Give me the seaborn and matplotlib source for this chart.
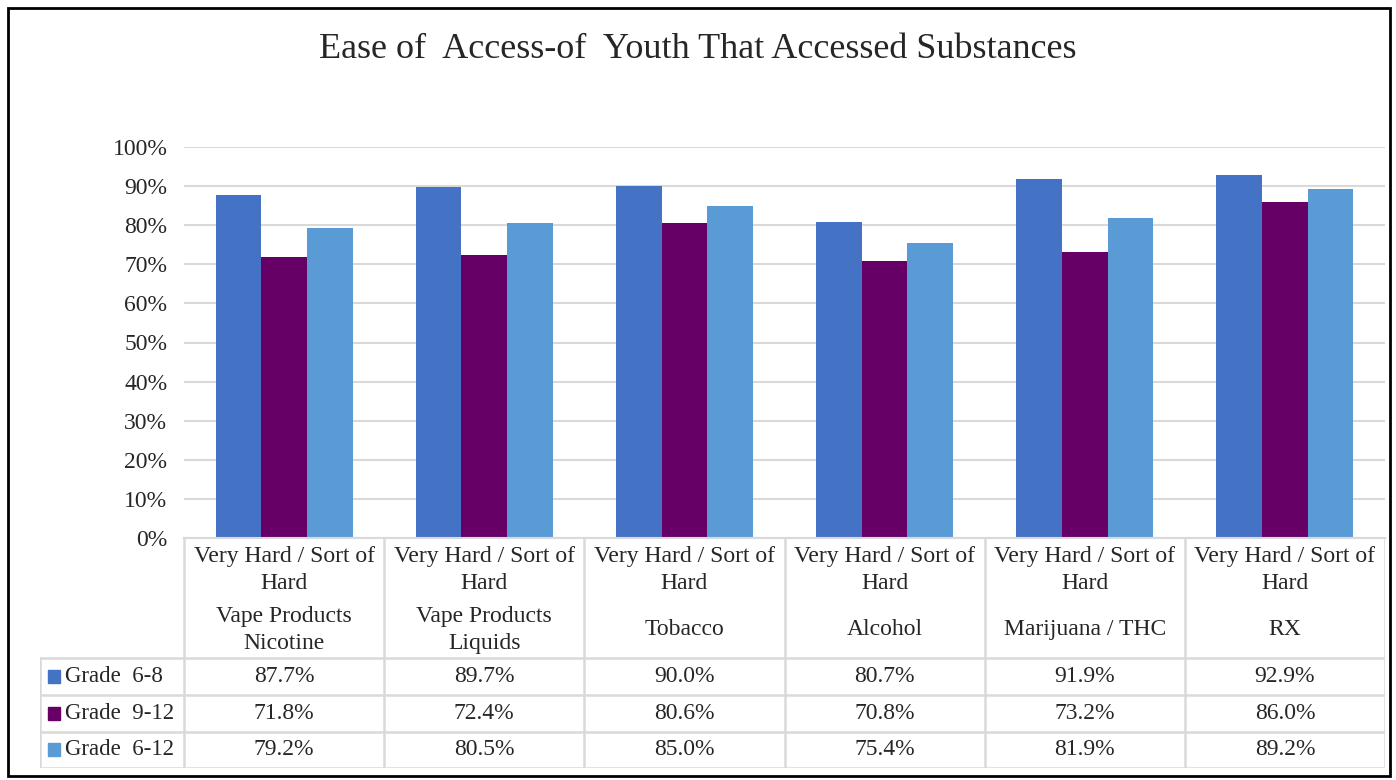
import pandas as pd
import matplotlib
matplotlib.use("Agg")
import matplotlib.pyplot as plt
import seaborn as sns
from matplotlib.patches import Rectangle

substances = ["Vape Products\nNicotine", "Vape Products\nLiquids", "Tobacco",
              "Alcohol", "Marijuana / THC", "RX"]
access_label = "Very Hard / Sort of\nHard"
grades = ["Grade  6-8", "Grade  9-12", "Grade  6-12"]
grade_6_8 = [87.7, 89.7, 90.0, 80.7, 91.9, 92.9]
grade_9_12 = [71.8, 72.4, 80.6, 70.8, 73.2, 86.0]
grade_6_12 = [79.2, 80.5, 85.0, 75.4, 81.9, 89.2]
colors = ["#4472C4", "#660066", "#5B9BD5"]

rows = []
for g, vals in zip(grades, [grade_6_8, grade_9_12, grade_6_12]):
    for s, v in zip(substances, vals):
        rows.append({"Substance": s, "Grade": g, "Pct": v})
df = pd.DataFrame(rows)

sns.set_theme(style="white")
plt.rcParams["font.family"] = ["Liberation Serif", "DejaVu Serif"]

W, H = 1396, 780
fig = plt.figure(figsize=(W / 100, H / 100), dpi=100)
grid_c = "#D9D9D9"
txt_c = "#262626"
fs = 17

# plot area in pixels
x0, x1 = 184, 1385
y_top, y_bot = 147, 538
ax = fig.add_axes([x0 / W, 1 - y_bot / H, (x1 - x0) / W, (y_bot - y_top) / H])
sns.barplot(data=df, x="Substance", y="Pct", hue="Grade", order=substances,
            hue_order=grades, palette=colors, width=0.685, saturation=1,
            legend=False, ax=ax, errorbar=None, linewidth=0)
ax.set_xlim(-0.5, 5.5)
ax.set_ylim(0, 100)
ax.set_yticks(range(0, 101, 10))
ax.set_yticklabels([f"{t}%" for t in range(0, 101, 10)], fontsize=fs, color=txt_c)
ax.yaxis.grid(True, color=grid_c, linewidth=1.5)
ax.set_axisbelow(True)
ax.set_xticks([])
ax.set_xlabel("")
ax.set_ylabel("")
for sp in ["top", "right", "left"]:
    ax.spines[sp].set_visible(False)
ax.spines["bottom"].set_color(grid_c)
ax.spines["bottom"].set_linewidth(1.5)
ax.tick_params(axis="y", length=0, pad=12)

# data table
tx0, ty_bot = 40, 768
n = len(substances)
colw = (x1 - x0) / n
leg_w = (x0 - tx0) / colw
tax = fig.add_axes([tx0 / W, 1 - ty_bot / H, (x1 - tx0) / W, (ty_bot - y_bot) / H])
tax.set_xlim(-0.5 - leg_w, n - 0.5)
tax.set_ylim(ty_bot, y_bot)
tax.axis("off")

row_y = [658, 695, 732, 768]
lw = 1.8
for i in range(n + 1):
    tax.plot([i - 0.5, i - 0.5], [y_bot, ty_bot], color=grid_c, lw=lw, solid_capstyle="butt")
tax.plot([-0.5 - leg_w] * 2, [row_y[0], ty_bot], color=grid_c, lw=lw)
for yy in row_y:
    tax.plot([-0.5 - leg_w, n - 0.5], [yy, yy], color=grid_c, lw=lw)

for i, s in enumerate(substances):
    tax.text(i, 570, access_label, ha="center", va="center", fontsize=fs,
             color=txt_c, linespacing=1.38)
    tax.text(i, 630, s, ha="center", va="center", fontsize=fs,
             color=txt_c, linespacing=1.38)

for r, (g, vals, c) in enumerate(zip(grades, [grade_6_8, grade_9_12, grade_6_12], colors)):
    yc = (row_y[r] + row_y[r + 1]) / 2
    tax.add_patch(Rectangle((-0.5 - leg_w + 0.04, yc - 6.5), 0.06, 13, color=c))
    tax.text(-0.5 - leg_w + 0.125, yc, g, ha="left", va="center", fontsize=16.5, color=txt_c)
    for i, v in enumerate(vals):
        tax.text(i, yc, f"{v:.1f}%", ha="center", va="center", fontsize=fs, color=txt_c)

fig.text(0.5, 1 - 49 / H, "Ease of  Access-of  Youth That Accessed Substances",
         ha="center", va="center", fontsize=26, color=txt_c)

fig.patches.append(Rectangle((8 / W, 4 / H), (1390 - 8) / W, (772 - 4) / H,
                             transform=fig.transFigure, fill=False,
                             edgecolor="black", linewidth=2))

fig.savefig("out.png", dpi=100, facecolor="white")
